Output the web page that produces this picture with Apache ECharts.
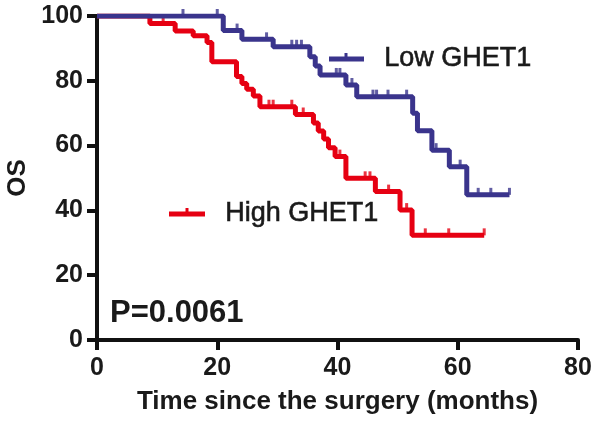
<!DOCTYPE html>
<html>
<head>
<meta charset="utf-8">
<script src="https://cdn.jsdelivr.net/npm/echarts@6/dist/echarts.min.js"></script>
<style>
html,body{margin:0;padding:0;background:#fff;}
#chart{width:602px;height:424px;}
</style>
</head>
<body>
<div id="chart"></div>
<script>
// Low GHET1 step curve (time in months, survival %)
var lowTimes = [0, 21.0, 24.1, 29.3, 35.4, 36.3, 37.1, 41.4, 43.2, 52.5, 53.3, 55.7, 58.6, 61.5, 68.6];
var lowSurv  = [100, 95.5, 92.8, 90.5, 87.4, 84.6, 81.8, 78.7, 75.1, 70.0, 64.6, 58.6, 53.5, 44.8, 44.8];
var lowCensor = [14.3, 20.0, 23.3, 28.2, 32.4, 33.2, 34.0, 39.8, 40.4, 42.4, 45.9, 46.5, 48.4, 51.5, 56.4, 60.4, 63.4, 65.5, 68.6];

// High GHET1 step curve
var highTimes = [0, 8.8, 13.0, 16.0, 18.3, 19.1, 23.2, 24.1, 24.9, 26.0, 27.1, 33.0, 36.0, 36.8, 37.7, 38.5, 39.6, 41.4, 46.3, 50.4, 52.4, 64.4];
var highSurv  = [100, 97.7, 95.4, 93.9, 91.8, 85.9, 81.3, 79.2, 77.4, 75.3, 72.0, 69.6, 67.0, 64.5, 62.0, 59.3, 56.6, 49.9, 45.8, 40.1, 32.3, 32.3];
var highCensor = [11.0, 28.6, 29.3, 32.4, 34.3, 40.4, 44.6, 45.4, 48.5, 51.5, 54.6, 58.5, 64.4];

var xTicks = [0, 20, 40, 60, 80];
var yTicks = [0, 20, 40, 60, 80, 100];

var BLUE = '#3a348c';
var RED = '#e60012';
var FONT = '"Liberation Sans", Arial, Helvetica, sans-serif';

function pairs(ts, vs) { return ts.map(function (t, i) { return [t, vs[i]]; }); }
function levelAt(ts, vs, t) {
  var v = vs[0];
  for (var i = 0; i < ts.length; i++) { if (ts[i] <= t) v = vs[i]; }
  return v;
}
function censorPts(cs, ts, vs) { return cs.map(function (c) { return [c, levelAt(ts, vs, c)]; }); }

var chart = echarts.init(document.getElementById('chart'), null, {renderer: 'canvas'});
var axisCommon = {
  axisLine: {show: true, onZero: false, lineStyle: {color: '#111', width: 4}},
  axisTick: {show: true, inside: false, length: 10, lineStyle: {color: '#111', width: 4}},
  splitLine: {show: false},
  axisLabel: {color: '#1a1a1a', fontSize: 25, fontWeight: 'bold', fontFamily: FONT},
  nameTextStyle: {color: '#1a1a1a', fontSize: 26, fontWeight: 'bold', fontFamily: FONT}
};
chart.setOption({
  animation: false,
  backgroundColor: '#fff',
  grid: {left: 97, right: 24, top: 16, bottom: 84, containLabel: false, outerBoundsMode: 'none'},
  xAxis: Object.assign({}, axisCommon, {
    type: 'value', min: xTicks[0], max: xTicks[xTicks.length - 1], interval: 20,
    name: 'Time since the surgery (months)', nameLocation: 'middle', nameGap: 49,
    axisLabel: Object.assign({}, axisCommon.axisLabel, {margin: 16})
  }),
  yAxis: Object.assign({}, axisCommon, {
    type: 'value', min: yTicks[0], max: yTicks[yTicks.length - 1], interval: 20,
    name: 'OS', nameLocation: 'middle', nameGap: 61, nameRotate: 90,
    axisLabel: Object.assign({}, axisCommon.axisLabel, {margin: 14})
  }),
  graphic: [
    {type: 'text', left: 110, top: 298, style: {text: 'P=0.0061', font: 'bold 31px ' + FONT, fill: '#1a1a1a'}},
    {type: 'line', shape: {x1: 329, y1: 59, x2: 364, y2: 59}, style: {stroke: BLUE, lineWidth: 5}},
    {type: 'line', shape: {x1: 346, y1: 59, x2: 346, y2: 53}, style: {stroke: BLUE, lineWidth: 3}},
    {type: 'text', left: 384, top: 45, style: {text: 'Low GHET1', font: '27px ' + FONT, fill: '#1a1a1a', stroke: '#1a1a1a', lineWidth: 0.6}},
    {type: 'line', shape: {x1: 169, y1: 214, x2: 205, y2: 214}, style: {stroke: RED, lineWidth: 5}},
    {type: 'line', shape: {x1: 187, y1: 214, x2: 187, y2: 208}, style: {stroke: RED, lineWidth: 3}},
    {type: 'text', left: 225, top: 200, style: {text: 'High GHET1', font: '27px ' + FONT, fill: '#1a1a1a', stroke: '#1a1a1a', lineWidth: 0.6}}
  ],
  series: [
    {type: 'line', step: 'end', data: pairs(highTimes, highSurv), showSymbol: false,
     lineStyle: {color: RED, width: 5}, itemStyle: {color: RED}, z: 2},
    {type: 'scatter', data: censorPts(highCensor, highTimes, highSurv), symbol: 'rect',
     symbolSize: [3, 7], symbolOffset: [0, -3.5], itemStyle: {color: RED}, z: 2},
    {type: 'line', step: 'end', data: pairs(lowTimes, lowSurv), showSymbol: false,
     lineStyle: {color: BLUE, width: 5}, itemStyle: {color: BLUE}, z: 3},
    {type: 'scatter', data: censorPts(lowCensor, lowTimes, lowSurv), symbol: 'rect',
     symbolSize: [3, 7], symbolOffset: [0, -3.5], itemStyle: {color: BLUE}, z: 3}
  ]
});
</script>
</body>
</html>
